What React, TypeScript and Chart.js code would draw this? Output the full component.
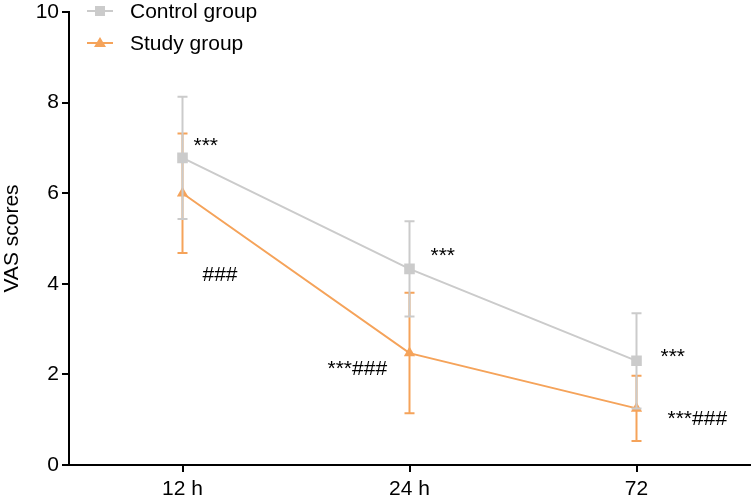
import React, { useEffect, useRef } from "react";
import { Chart, registerables } from "chart.js";

Chart.register(...registerables);

// Time points and group means / standard deviations of VAS scores
const timePoints = ["12 h", "24 h", "72"];
const controlMean = [6.78, 4.33, 2.3];
const controlSD = [1.35, 1.05, 1.05];
const studyMean = [6.0, 2.47, 1.25];
const studySD = [1.32, 1.33, 0.72];
const yTicks = [0, 2, 4, 6, 8, 10];

// Significance marks: category index, value-axis baseline, horizontal offset in px
const sigLabels = [
  { cat: 0, y: 6.91, dx: 11, text: "***" },
  { cat: 0, y: 4.06, dx: 20, text: "###" },
  { cat: 1, y: 4.48, dx: 21, text: "***" },
  { cat: 1, y: 1.99, dx: -82, text: "***###" },
  { cat: 2, y: 2.25, dx: 24, text: "***" },
  { cat: 2, y: 0.88, dx: 31, text: "***###" },
];

const GRAY = "#cbcbcb";
const ORANGE = "#f5a35a";
const FONT = "'Liberation Sans', Arial, sans-serif";

const errorBars = {
  id: "errorBars",
  beforeDatasetDraw(chart: any, args: any) {
    const ds = chart.data.datasets[args.index];
    const sd: number[] = ds.sd;
    if (!sd) return;
    const meta = chart.getDatasetMeta(args.index);
    const yScale = chart.scales.y;
    const ctx = chart.ctx;
    ctx.save();
    ctx.strokeStyle = ds.borderColor;
    ctx.lineWidth = 2;
    meta.data.forEach((pt: any, i: number) => {
      const v = ds.data[i];
      const top = yScale.getPixelForValue(v + sd[i]);
      const bot = yScale.getPixelForValue(v - sd[i]);
      const x = pt.x;
      ctx.beginPath();
      ctx.moveTo(x, top);
      ctx.lineTo(x, bot);
      ctx.moveTo(x - 5, top);
      ctx.lineTo(x + 5, top);
      ctx.moveTo(x - 5, bot);
      ctx.lineTo(x + 5, bot);
      ctx.stroke();
    });
    ctx.restore();
  },
};

const sigText = {
  id: "sigText",
  afterDatasetsDraw(chart: any) {
    const ctx = chart.ctx;
    const xs = chart.scales.x;
    const ys = chart.scales.y;
    ctx.save();
    ctx.fillStyle = "#000";
    ctx.font = `21px ${FONT}`;
    ctx.textAlign = "left";
    ctx.textBaseline = "alphabetic";
    sigLabels.forEach((l) => {
      ctx.fillText(l.text, xs.getPixelForValue(l.cat) + l.dx, ys.getPixelForValue(l.y));
    });
    ctx.restore();
  },
};

function drawMarker(ctx: CanvasRenderingContext2D, style: string, x: number, y: number, color: string) {
  ctx.fillStyle = color;
  if (style === "rect") {
    ctx.fillRect(x - 5, y - 5, 10, 10);
  } else {
    ctx.beginPath();
    ctx.moveTo(x, y - 6);
    ctx.lineTo(x + 6, y + 4);
    ctx.lineTo(x - 6, y + 4);
    ctx.closePath();
    ctx.fill();
  }
}

const insetLegend = {
  id: "insetLegend",
  afterDraw(chart: any) {
    const ctx = chart.ctx;
    const rows = [
      { label: "Control group", color: GRAY, style: "rect", y: 11 },
      { label: "Study group", color: ORANGE, style: "triangle", y: 43 },
    ];
    ctx.save();
    rows.forEach((r) => {
      ctx.strokeStyle = r.color;
      ctx.lineWidth = 2;
      ctx.beginPath();
      ctx.moveTo(87, r.y);
      ctx.lineTo(113, r.y);
      ctx.stroke();
      drawMarker(ctx, r.style, 100, r.y, r.color);
      ctx.fillStyle = "#000";
      ctx.font = `21px ${FONT}`;
      ctx.textAlign = "left";
      ctx.textBaseline = "middle";
      ctx.fillText(r.label, 130, r.y + 1);
    });
    ctx.restore();
  },
};

export default function App() {
  const ref = useRef<HTMLCanvasElement | null>(null);

  useEffect(() => {
    if (!ref.current) return;
    const chart = new Chart(ref.current, {
      type: "line",
      data: {
        labels: timePoints,
        datasets: [
          {
            label: "Control group",
            data: controlMean,
            sd: controlSD,
            borderColor: GRAY,
            backgroundColor: GRAY,
            borderWidth: 2,
            pointStyle: "rect",
            pointRadius: 7.5,
            pointBorderWidth: 0,
            tension: 0,
          } as any,
          {
            label: "Study group",
            data: studyMean,
            sd: studySD,
            borderColor: ORANGE,
            backgroundColor: ORANGE,
            borderWidth: 2,
            pointStyle: "triangle",
            pointRadius: 6.5,
            pointBorderWidth: 0,
            tension: 0,
          } as any,
        ],
      },
      options: {
        animation: false,
        responsive: false,
        devicePixelRatio: 1,
        layout: { autoPadding: false, padding: { top: 12, right: 2, left: 0, bottom: 0 } },
        plugins: {
          legend: { display: false },
          tooltip: { enabled: false },
        },
        scales: {
          x: {
            type: "category",
            offset: true,
            border: { display: true, color: "#000", width: 2 },
            grid: { display: true, drawOnChartArea: false, drawTicks: true, tickLength: 7, color: "#000", lineWidth: 2 },
            ticks: { color: "#000", padding: 5, font: { family: FONT, size: 21 } },
            afterFit(scale: any) {
              scale.height = 32;
              scale.paddingLeft = 0;
              scale.paddingRight = 0;
            },
          },
          y: {
            min: 0,
            max: 10,
            afterBuildTicks(scale: any) {
              scale.ticks = yTicks.map((v) => ({ value: v }));
            },
            border: { display: true, color: "#000", width: 2 },
            grid: { display: true, drawOnChartArea: false, drawTicks: true, tickLength: 7, color: "#000", lineWidth: 2 },
            ticks: { color: "#000", padding: 3, font: { family: FONT, size: 21 } },
            title: { display: true, text: "VAS scores", color: "#000", padding: 0, font: { family: FONT, size: 21 } },
            afterFit(scale: any) {
              scale.width = 69;
              scale.paddingTop = 0;
              scale.paddingBottom = 0;
            },
          },
        },
      },
      plugins: [errorBars, sigText, insetLegend],
    } as any);
    return () => chart.destroy();
  }, []);

  return (
    <div style={{ position: "fixed", left: 0, top: 0, width: 752, height: 497, background: "#fff" }}>
      <canvas ref={ref} width={752} height={497} />
    </div>
  );
}
